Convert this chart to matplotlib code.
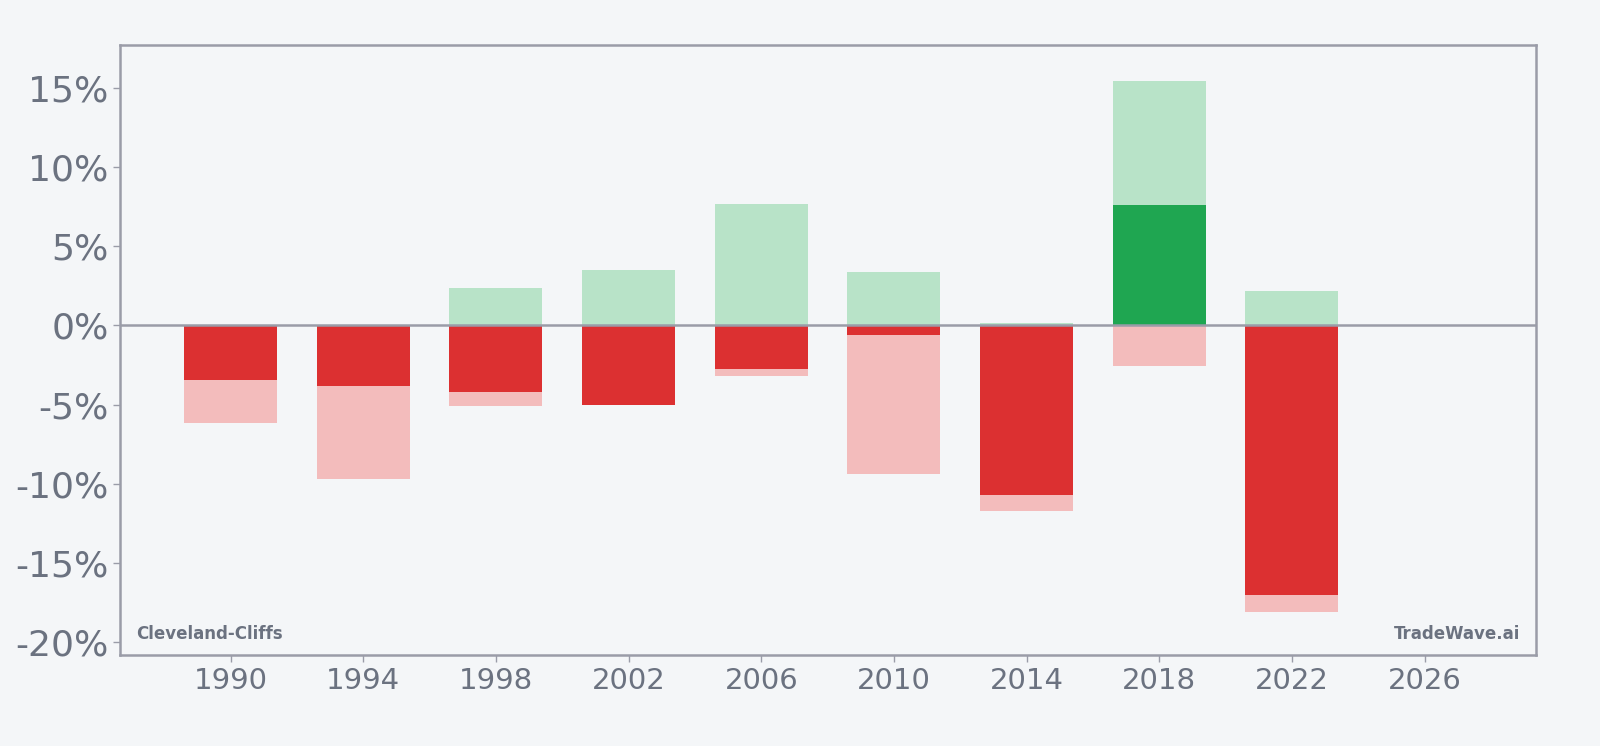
import matplotlib
matplotlib.use("Agg")
import matplotlib.pyplot as plt
from matplotlib.ticker import FuncFormatter

years = [1990, 1994, 1998, 2002, 2006, 2010, 2014, 2018, 2022]
values = [-3.46, -3.84, -4.22, -5.04, -2.73, -0.63, -10.71, 7.63, -17.04]
range_max = [0.0, 0.0, 2.38, 3.51, 7.67, 3.38, 0.15, 15.44, 2.20]
range_min = [-6.18, -9.70, -5.10, -5.04, -3.21, -9.39, -11.72, -2.58, -18.09]
y_ticks = [-20, -15, -10, -5, 0, 5, 10, 15]
x_ticks = [1990, 1994, 1998, 2002, 2006, 2010, 2014, 2018, 2022, 2026]
company = "Cleveland-Cliffs"
brand = "TradeWave.ai"

BG = "#f4f6f8"
DARK_RED = "#dc3031"
DARK_GREEN = "#1fa651"
LIGHT_RED = "#f3bcbc"
LIGHT_GREEN = "#b8e3c8"
SPINE = "#9a9ca8"
TEXT = "#6b7280"

fig = plt.figure(figsize=(16, 7.46), dpi=100, facecolor=BG)
ax = fig.add_axes([0.0753, 0.122, 0.8845, 0.8177], facecolor=BG)

w = 2.8
ax.bar(years, range_max, width=w, color=LIGHT_GREEN, zorder=2)
ax.bar(years, range_min, width=w, color=LIGHT_RED, zorder=2)
dark_colors = [DARK_GREEN if v >= 0 else DARK_RED for v in values]
ax.bar(years, values, width=w, color=dark_colors, zorder=3)
ax.axhline(0, color=SPINE, lw=1.8, zorder=4)

ax.set_xlim(1986.68, 2029.35)
ax.set_ylim(-20.8, 17.7)
ax.set_yticks(y_ticks)
ax.set_xticks(x_ticks)
ax.yaxis.set_major_formatter(FuncFormatter(lambda v, p: f"{int(v)}%"))
ax.tick_params(axis="y", labelsize=26, colors=SPINE, labelcolor=TEXT, length=5, width=1)
ax.tick_params(axis="x", labelsize=21, colors=SPINE, labelcolor=TEXT, length=5, width=1)
for s in ax.spines.values():
    s.set_color(SPINE)
    s.set_linewidth(1.8)

ax.text(0.011, 0.035, company, transform=ax.transAxes, fontsize=12,
        fontweight="bold", color=TEXT, ha="left", va="center")
ax.text(0.989, 0.035, brand, transform=ax.transAxes, fontsize=12,
        fontweight="bold", color=TEXT, ha="right", va="center")

fig.savefig("out.png", dpi=100, facecolor=BG)
